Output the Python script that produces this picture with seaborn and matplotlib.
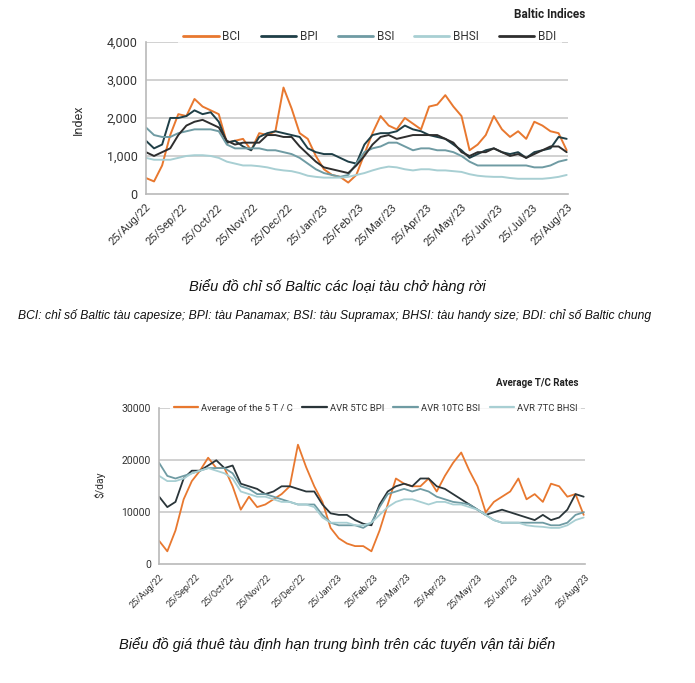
import pandas as pd
import matplotlib
matplotlib.use("Agg")
import matplotlib.pyplot as plt
import matplotlib.dates as mdates
import seaborn as sns

sns.set_style("white")
plt.rcParams['font.family'] = ['Roboto', 'DejaVu Sans']

# weekly readings, 25/Aug/22 .. 24/Aug/23
dates = pd.date_range("2022-08-25", periods=53, freq="7D")

bci = [420, 330, 750, 1550, 2100, 2050, 2500, 2300, 2200, 2100, 1350, 1400, 1450, 1150,
       1600, 1550, 1650, 2800, 2250, 1600, 1450, 1000, 650, 500, 450, 300, 500, 1050,
       1600, 2050, 1800, 1700, 2000, 1850, 1700, 2300, 2350, 2600, 2300, 2050, 1150, 1300,
       1550, 2050, 1700, 1500, 1650, 1450, 1900, 1800, 1650, 1600, 1150]
bpi = [1400, 1200, 1300, 2000, 2000, 2050, 2200, 2100, 2150, 1900, 1350, 1400, 1250, 1150,
       1500, 1600, 1650, 1600, 1550, 1500, 1200, 1100, 1050, 1050, 950, 850, 800, 1300,
       1550, 1600, 1600, 1650, 1800, 1700, 1650, 1550, 1500, 1450, 1300, 1150, 950, 1050,
       1150, 1200, 1100, 1050, 1100, 950, 1100, 1150, 1200, 1500, 1450]
bsi = [1750, 1550, 1500, 1500, 1600, 1650, 1700, 1700, 1700, 1650, 1300, 1200, 1200, 1200,
       1200, 1150, 1150, 1100, 1050, 950, 800, 650, 550, 500, 450, 500, 800, 1100,
       1200, 1250, 1350, 1350, 1250, 1150, 1200, 1200, 1150, 1150, 1100, 1000, 850, 750,
       750, 750, 750, 750, 750, 750, 700, 700, 750, 850, 900]
bhsi = [950, 900, 900, 900, 950, 1000, 1020, 1020, 1000, 950, 850, 800, 750, 750,
        730, 700, 650, 620, 600, 550, 480, 450, 430, 430, 430, 450, 500, 550,
        620, 680, 720, 700, 650, 620, 650, 650, 620, 620, 600, 580, 520, 480,
        460, 450, 450, 420, 400, 400, 400, 400, 420, 450, 500]
bdi = [1100, 1000, 1100, 1200, 1550, 1800, 1900, 1950, 1850, 1750, 1400, 1300, 1350, 1350,
       1350, 1550, 1550, 1500, 1500, 1250, 1050, 850, 700, 650, 600, 550, 750, 1000,
       1300, 1500, 1550, 1450, 1500, 1550, 1550, 1550, 1550, 1450, 1350, 1100, 1000, 1100,
       1100, 1200, 1100, 1000, 1050, 950, 1050, 1150, 1250, 1250, 1100]

tc_avg5 = [4500, 2500, 6500, 12500, 16000, 18000, 20500, 18500, 18500, 15000, 10500, 13000,
           11000, 11500, 12500, 13500, 15000, 23000, 18700, 15000, 12000, 7000, 5000, 4000,
           3500, 3500, 2500, 6500, 11500, 16500, 15500, 15000, 15000, 16500, 14000, 17000,
           19500, 21500, 18000, 15000, 10000, 12000, 13000, 14000, 16500, 12500, 13500, 12000,
           15500, 15000, 13000, 13500, 9500]
tc_bpi = [13000, 11000, 12000, 16500, 18000, 18000, 19000, 20000, 18500, 19000, 15500, 15000,
          14500, 13500, 14000, 15000, 15000, 14500, 14000, 14000, 11500, 9800, 9500, 9500,
          8500, 7800, 7500, 11500, 14000, 15000, 15500, 15000, 16500, 16500, 15000, 14500,
          13500, 12500, 11500, 10500, 9500, 10000, 10500, 10000, 9500, 9000, 8500, 9500,
          8500, 9000, 10500, 13500, 13000]
tc_bsi = [19500, 17000, 16500, 17000, 17500, 18000, 18500, 18500, 18500, 17500, 15000, 14500,
          13500, 13500, 13000, 12500, 12000, 11500, 11500, 11500, 9500, 8000, 7500, 7500,
          7500, 7000, 8000, 11000, 13500, 14000, 14500, 14000, 14500, 14000, 13000, 12500,
          12000, 11800, 11500, 10500, 9500, 8500, 8000, 8000, 8000, 8000, 8000, 8000,
          7500, 7500, 8000, 9500, 10000]
tc_bhsi = [17000, 16000, 16000, 16500, 17500, 18000, 18500, 18000, 17500, 16500, 14000, 13500,
           13000, 13000, 12500, 12000, 12000, 11500, 11500, 11000, 9000, 8000, 8000, 8000,
           7500, 7500, 8000, 9500, 11000, 12000, 12500, 12500, 12000, 11500, 12000, 12000,
           11500, 11500, 11000, 10500, 9500, 8500, 8000, 8000, 8000, 7500, 7300, 7200,
           7000, 7000, 7500, 8500, 9000]

names1 = ["BCI", "BPI", "BSI", "BHSI", "BDI"]
names2 = ["Average of the 5 T / C", "AVR 5TC BPI", "AVR 10TC BSI", "AVR 7TC BHSI"]
colors1 = ["#e8782f", "#1f3f47", "#6f9ba3", "#a8cfd3", "#2e2e2e"]
colors2 = ["#e8782f", "#2a3539", "#6f9ba3", "#a8cfd3"]

df1 = pd.DataFrame({"date": dates, "BCI": bci, "BPI": bpi, "BSI": bsi, "BHSI": bhsi, "BDI": bdi})
df1 = df1.melt(id_vars="date", var_name="index", value_name="value")
df2 = pd.DataFrame({"date": dates, names2[0]: tc_avg5, names2[1]: tc_bpi,
                    names2[2]: tc_bsi, names2[3]: tc_bhsi})
df2 = df2.melt(id_vars="date", var_name="index", value_name="value")

month_ticks = pd.date_range("2022-08-25", "2023-08-25", freq=pd.DateOffset(months=1))
grey = "#b9b9b9"
txt = "#333333"

fig = plt.figure(figsize=(6.95, 6.83), dpi=100)
ax1 = fig.add_axes([0.210, 0.716, 0.607, 0.2226])
ax2 = fig.add_axes([0.229, 0.1738, 0.6125, 0.2284])


def style_axis(ax, yticks, ylabels, xfs, yfs):
    ax.set_xlim(pd.Timestamp("2022-08-25"), pd.Timestamp("2023-08-25"))
    ax.set_ylim(yticks[0], yticks[-1])
    ax.set_yticks(yticks)
    ax.set_yticklabels(ylabels, fontsize=yfs, color=txt)
    ax.set_xticks(month_ticks)
    ax.xaxis.set_major_formatter(mdates.DateFormatter("%d/%b/%y"))
    plt.setp(ax.get_xticklabels(), rotation=45, ha="right", rotation_mode="anchor",
             fontsize=xfs, color=txt)
    for y in yticks[1:]:
        ax.axhline(y, color="#c9c9c9", linewidth=1.2, zorder=0)
    for s in ["top", "right"]:
        ax.spines[s].set_visible(False)
    for s in ["left", "bottom"]:
        ax.spines[s].set_color(grey)
        ax.spines[s].set_linewidth(1.2)
    ax.tick_params(axis="both", direction="out", length=4, color=grey, width=1.2, pad=2)
    ax.set_xlabel("")
    ax.set_ylabel("")


sns.lineplot(data=df1, x="date", y="value", hue="index", hue_order=names1,
             palette=dict(zip(names1, colors1)), linewidth=1.4, ax=ax1, legend=False)
style_axis(ax1, [0, 1000, 2000, 3000, 4000], ["0", "1,000", "2,000", "3,000", "4,000"], 8, 9)
h1 = [plt.Line2D([], [], color=c, linewidth=2) for c in colors1]
leg1 = ax1.legend(h1, names1, ncol=5, loc="center left", bbox_to_anchor=(0.075, 1.035),
                  frameon=True, facecolor="white", edgecolor="none", fancybox=False,
                  fontsize=8.5, handlelength=3.0, handletextpad=0.3, columnspacing=1.7,
                  borderpad=0.5, borderaxespad=0)
for t in leg1.get_texts():
    t.set_color(txt)

sns.lineplot(data=df2, x="date", y="value", hue="index", hue_order=names2,
             palette=dict(zip(names2, colors2)), linewidth=1.3, ax=ax2, legend=False)
style_axis(ax2, [0, 10000, 20000, 30000], ["0", "10000", "20000", "30000"], 6.5, 7.5)
h2 = [plt.Line2D([], [], color=c, linewidth=1.6) for c in colors2]
leg2 = ax2.legend(h2, names2, ncol=4, loc="center left", bbox_to_anchor=(0.025, 1.0),
                  frameon=True, facecolor="white", edgecolor="none", fancybox=False,
                  fontsize=6.8, handlelength=2.6, handletextpad=0.3, columnspacing=1.0,
                  borderpad=0.4, borderaxespad=0)
for t in leg2.get_texts():
    t.set_color(txt)

fig.text(0.842, 1 - 15 / 683, "Baltic Indices", ha="right", va="center",
         fontsize=8.5, fontweight="bold", color="#222222")
fig.text(0.832, 1 - 383 / 683, "Average T/C Rates", ha="right", va="center",
         fontsize=7, fontweight="bold", color="#222222")
fig.text(78 / 695, 1 - 120 / 683, "Index", rotation=90, ha="center", va="center",
         fontsize=9, color=txt)
fig.text(100 / 695, 1 - 485 / 683, r"\$/day", rotation=90, ha="center", va="center",
         fontsize=7.5, color=txt)

cap = ["Liberation Sans Narrow", "Liberation Sans", "DejaVu Sans"]
fig.text(337 / 695, 1 - 287 / 683, "Biểu đồ chỉ số Baltic các loại tàu chở hàng rời",
         ha="center", va="center", fontsize=10.5, style="italic", family=cap, color="#111111")
fig.text(335 / 695, 1 - 316 / 683,
         "BCI: chỉ số Baltic tàu capesize; BPI: tàu Panamax; BSI: tàu Supramax; "
         "BHSI: tàu handy size; BDI: chỉ số Baltic chung",
         ha="center", va="center", fontsize=8.7, style="italic", family=cap, color="#111111")
fig.text(337 / 695, 1 - 645 / 683,
         "Biểu đồ giá thuê tàu định hạn trung bình trên các tuyến vận tải biển",
         ha="center", va="center", fontsize=10.5, style="italic", family=cap, color="#111111")

fig.savefig("out.png", dpi=100)
